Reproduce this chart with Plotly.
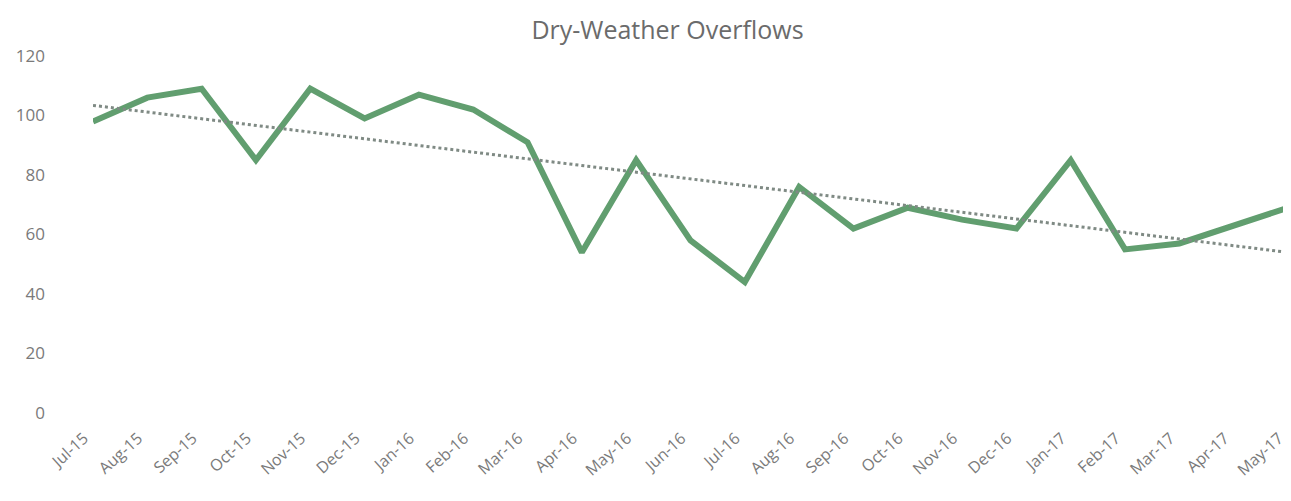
import numpy as np
import plotly.graph_objects as go

months = ["Jul-15", "Aug-15", "Sep-15", "Oct-15", "Nov-15", "Dec-15", "Jan-16", "Feb-16",
          "Mar-16", "Apr-16", "May-16", "Jun-16", "Jul-16", "Aug-16", "Sep-16", "Oct-16",
          "Nov-16", "Dec-16", "Jan-17", "Feb-17", "Mar-17", "Apr-17", "May-17"]
overflows = [98, 106, 109, 85, 109, 99, 107, 102, 91, 54, 85, 58, 44, 76, 62, 69,
             65, 62, 85, 55, 57, 63, 69]
y_ticks = [0, 20, 40, 60, 80, 100, 120]

idx = np.arange(len(months))
slope, intercept = np.polyfit(idx, overflows, 1)
trend = (slope * idx + intercept).tolist()

fig = go.Figure()
fig.add_trace(go.Scatter(x=months, y=overflows, mode="lines",
                         line=dict(color="#619e6f", width=6), showlegend=False))
fig.add_trace(go.Scatter(x=months, y=trend, mode="lines",
                         line=dict(color="#7f8a84", width=3, dash="dot"), showlegend=False))

fig.update_layout(
    width=1283, height=493,
    margin=dict(l=85, r=3, t=48, b=88),
    paper_bgcolor="white", plot_bgcolor="white",
    title=dict(text="Dry-Weather Overflows", x=0.514, xanchor="center", y=0.955, yanchor="middle",
               font=dict(family="Open Sans", size=25, color="#6b6b6b")),
    font=dict(family="Open Sans", color="#7a7a7a", size=15),
)
fig.update_xaxes(range=[0, len(months) - 1], tickangle=-42, showgrid=False, showline=False,
                 zeroline=False, tickfont=dict(size=16, color="#7a7a7a"), ticks="",
                 ticklabelstandoff=12, ticklabelshift=-9, automargin=False)
fig.update_yaxes(range=[0, 120], tickvals=y_ticks, showgrid=False, showline=False, zeroline=False,
                 tickfont=dict(size=17, color="#7a7a7a"), ticklabelstandoff=47, automargin=False)

fig.write_html("out.html")
